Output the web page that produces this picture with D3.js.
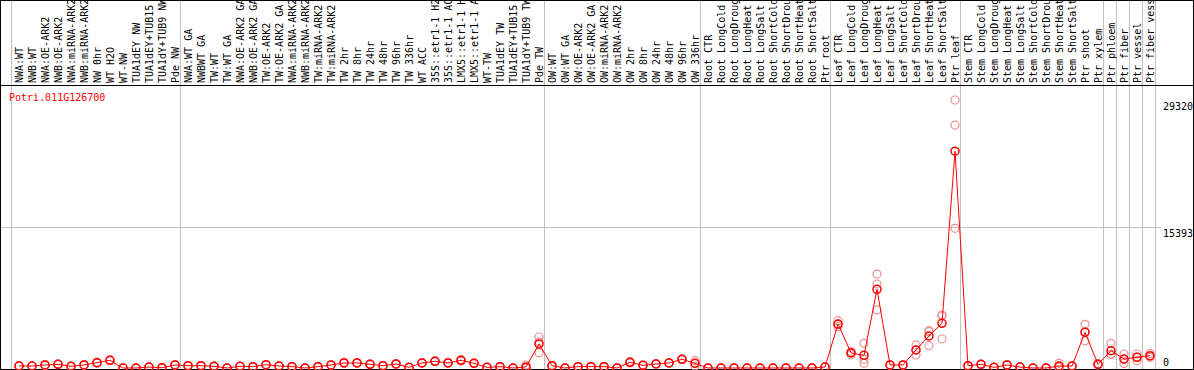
<!DOCTYPE html>
<html>
<head>
<meta charset="utf-8">
<script src="https://cdn.jsdelivr.net/npm/d3@7"></script>
<style>
body{margin:0;background:#fff}
text{font-family:"DejaVu Sans Mono",monospace;font-size:10px}
</style>
</head>
<body>
<div id="chart"></div>
<script>
// gene shown in the top left corner
var gene = "Potri.011G126700";

// sample names, one column each
var labels = [
  "NWA:WT","NWB:WT","NWA:OE-ARK2","NWB:OE-ARK2","NWA:miRNA-ARK2","NWB:miRNA-ARK2","NW 0hr","WT H2O","WT-NW",
  "TUA1dEY NW","TUA1dEY+TUB15 NW","TUA1dY+TUB9 NW","Pde NW",
  "NWA:WT GA","NWBWT GA","TW:WT","TW:WT GA","NWA:OE-ARK2 GA","NWB:OE-ARK2 GA","TW:OE-ARK2","TW:OE-ARK2 GA",
  "NWA:miRNA-ARK2","NWB:miRNA-ARK2","TW:miRNA-ARK2","TW:miRNA-ARK2","TW 2hr","TW 8hr","TW 24hr","TW 48hr",
  "TW 96hr","TW 336hr","WT ACC","35S::etr1-1 H2O","35S::etr1-1 ACC","LMX5::etr1-1 H2O","LMX5::etr1-1 ACC",
  "WT-TW","TUA1dEY TW","TUA1dEY+TUB15 TW","TUA1dY+TUB9 TW","Pde TW",
  "OW:WT","OW:WT GA","OW:OE-ARK2","OW:OE-ARK2 GA","OW:miRNA-ARK2","OW:miRNA-ARK2","OW 2hr","OW 8hr",
  "OW 24hr","OW 48hr","OW 96hr","OW 336hr",
  "Root CTR","Root LongCold","Root LongDrought","Root LongHeat","Root LongSalt","Root ShortCold",
  "Root ShortDrought","Root ShortHeat","Root ShortSalt","Ptr root",
  "Leaf CTR","Leaf LongCold","Leaf LongDrought","Leaf LongHeat","Leaf LongSalt","Leaf ShortCold",
  "Leaf ShortDrought","Leaf ShortHeat","Leaf ShortSalt","Ptr leaf",
  "Stem CTR","Stem LongCold","Stem LongDrought","Stem LongHeat","Stem LongSalt","Stem ShortCold",
  "Stem ShortDrought","Stem ShortHeat","Stem ShortSalt","Ptr shoot",
  "Ptr xylem","Ptr phloem","Ptr fiber","Ptr vessel","Ptr fiber vessel"
];

// three replicates per column (the red line follows their mean)
var rep1 = [240,210,380,450,220,370,640,880,0,0,120,40,350,270,260,200,0,190,160,380,230,160,0,170,350,620,600,450,280,480,80,580,770,590,930,540,80,160,0,330,3390,
  270,0,160,160,160,0,700,310,470,590,1010,800,0,0,0,0,0,0,0,0,0,120,
  5180,1800,2700,10280,350,350,2520,3970,5800,29320,270,420,80,350,120,0,0,510,240,4780,470,2700,1530,1530,1600];
var rep2 = [200,230,280,360,170,300,530,810,0,0,80,20,310,230,240,160,0,170,140,340,210,140,0,130,310,490,510,360,220,400,60,520,700,520,760,480,60,140,0,20,2820,
  230,0,140,140,140,0,560,270,410,520,900,220,0,0,0,0,0,0,0,0,0,80,
  4520,1450,950,9190,310,310,1970,4090,5700,26580,230,380,60,310,80,0,0,80,200,2990,330,1500,500,800,1170];
var rep3 = [220,220,330,390,180,320,570,830,0,0,100,30,330,250,250,180,0,180,150,360,220,150,0,150,330,540,540,390,250,440,70,550,720,540,830,510,70,150,0,10,1680,
  250,0,150,150,150,0,600,290,440,540,940,510,0,0,0,0,0,0,0,0,0,100,
  4730,1700,510,6350,330,330,1420,2440,3170,15280,250,400,70,330,100,0,0,70,220,3930,400,1500,925,1180,1280];

// value ticks printed on the right
var yTicks = [0, 15393, 29320];
// column index where each gray separator sits
var groupStarts = [0, 13, 41, 53, 63, 73, 84, 85, 86, 87, 88];

var W = 1194, H = 370;
var svg = d3.select("#chart").append("svg").attr("width", W).attr("height", H);

var rows = labels.map(function(l, i){
  var r = [rep1[i], rep2[i], rep3[i]];
  return {i: i, name: l, reps: r, mean: d3.mean(r)};
});

var x = d3.scalePoint().domain(d3.range(labels.length)).range([19, 1150]);
var y = d3.scaleLinear().domain([0, d3.max(yTicks)]).range([368, 100]);
var sepX = function(k){ return x(0) + k * x.step() - 7.5; };

// gray separators, full height
svg.selectAll("line.sep").data(groupStarts).enter().append("line")
  .attr("class", "sep")
  .attr("x1", function(d){ return Math.round(sepX(d) - 0.5) + 0.5; })
  .attr("x2", function(d){ return Math.round(sepX(d) - 0.5) + 0.5; })
  .attr("y1", 0).attr("y2", H)
  .attr("stroke", "#c0c0c0").attr("stroke-width", 1);

// middle gridline
svg.append("line")
  .attr("x1", 0).attr("x2", 1161)
  .attr("y1", Math.round(y(yTicks[1])) + 0.5).attr("y2", Math.round(y(yTicks[1])) + 0.5)
  .attr("stroke", "#c0c0c0");

// column labels, rotated
svg.selectAll("text.lab").data(rows).enter().append("text")
  .attr("class", "lab")
  .attr("transform", function(d){ return "translate(" + (x(d.i) + 3.5) + ",83) rotate(-90)"; })
  .attr("fill", "#000")
  .text(function(d){ return d.name; });

// frame and label divider
svg.append("rect").attr("x", 0.5).attr("y", 0.5).attr("width", W - 1).attr("height", H - 1)
  .attr("fill", "none").attr("stroke", "#000");
svg.append("line").attr("x1", 0).attr("x2", W).attr("y1", 85.5).attr("y2", 85.5).attr("stroke", "#000");

// right hand value labels
svg.selectAll("text.tick").data(yTicks).enter().append("text")
  .attr("class", "tick")
  .attr("x", 1163)
  .attr("y", function(d){ return d === 0 ? y(d) - 2 : y(d) + 9.5; })
  .attr("fill", "#000")
  .text(function(d){ return d; });

svg.append("text").attr("x", 9).attr("y", 101).attr("fill", "#ff0000").text(gene);

var plot = svg.append("g");

// replicate circles
var reps = [];
rows.forEach(function(d){ d.reps.forEach(function(v){ reps.push({i: d.i, v: v}); }); });
plot.selectAll("circle.rep").data(reps).enter().append("circle")
  .attr("class", "rep")
  .attr("cx", function(d){ return x(d.i); })
  .attr("cy", function(d){ return y(d.v); })
  .attr("r", 4)
  .attr("fill", "none").attr("stroke", "#ee9090").attr("stroke-width", 1.2);

var line = d3.line().x(function(d){ return x(d.i); }).y(function(d){ return y(d.mean); });
plot.append("path").datum(rows).attr("d", line)
  .attr("fill", "none").attr("stroke", "#ff0000").attr("stroke-width", 1);

plot.selectAll("circle.mean").data(rows).enter().append("circle")
  .attr("class", "mean")
  .attr("cx", function(d){ return x(d.i); })
  .attr("cy", function(d){ return y(d.mean); })
  .attr("r", 4)
  .attr("fill", "none").attr("stroke", "#ff0000").attr("stroke-width", 1.5);
</script>
</body>
</html>
